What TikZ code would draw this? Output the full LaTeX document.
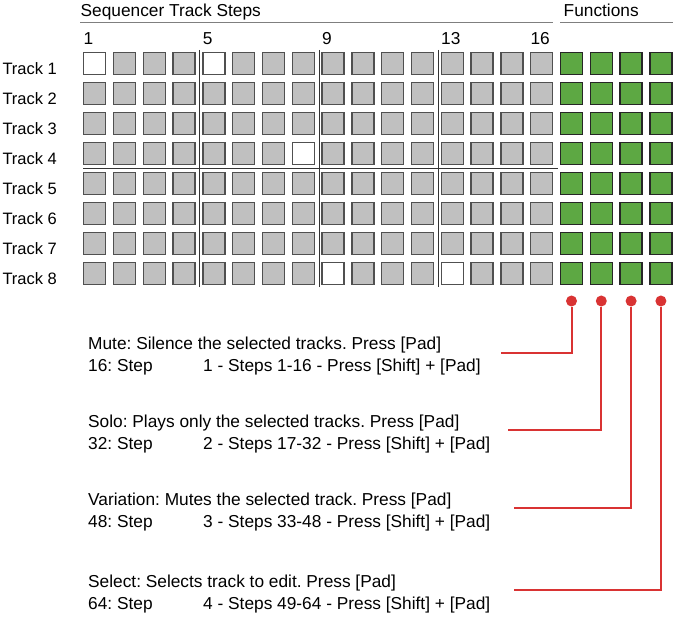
\documentclass[tikz,border=0pt]{standalone}
\usepackage{fontspec}
\setmainfont{Liberation Sans}
\frenchspacing

\definecolor{padgray}{HTML}{C0C0C0}
\definecolor{padedge}{HTML}{505050}
\definecolor{fngreen}{HTML}{5DA843}
\definecolor{ledred}{HTML}{D93333}
\definecolor{rulegray}{HTML}{7F7F7F}

\tikzset{
  pad/.style={draw=padedge, fill=padgray, line width=1.4pt, minimum size=22pt, inner sep=0pt},
  padon/.style={pad, fill=white},
  fnpad/.style={pad, draw=black!85, fill=fngreen},
  led/.style={circle, fill=ledred, inner sep=0pt, minimum size=11pt},
  redline/.style={ledred, line width=2pt},
  sep/.style={black!80, line width=1pt},
  headrule/.style={rulegray, line width=1.5pt},
  txt/.style={anchor=base west, inner sep=0pt, font=\fontsize{17.3}{20}\selectfont},
}

\begin{document}
\begin{tikzpicture}[x=1pt,y=-1pt]
\useasboundingbox (0,0) rectangle (677,617);

\node[txt] (seqhead) at (80.5,16.7) {Sequencer Track Steps};
\node[txt] (fnhead) at (563.5,16.7) {Functions};
\draw[headrule] (80,22.7) -- (553,22.7);
\draw[headrule] (560,22.7) -- (673,22.7);

\foreach \n/\c in {1/1,5/5,9/9,13/13,16/16}
  \node[txt] (num\n) at (53.6+29.8*\c,45) {\n};

\foreach \r in {1,...,8}{
  \node[txt, font=\fontsize{16.5}{20}\selectfont] (track\r) at (2.3,44.3+30*\r) {Track \r};
  \foreach \c in {1,...,16}
    \node[pad] (s-\r-\c) at (64.9+29.8*\c,33.3+30*\r) {};
  \foreach \c in {17,...,20}
    \node[fnpad] (f-\r-\c) at (64.9+29.8*\c,33.3+30*\r) {};
}
% lit steps
\foreach \r/\c in {1/1,1/5,4/8,8/9,8/13}
  \node[padon] at (s-\r-\c) {};

\draw[sep] (199,50) -- (199,286.7);
\draw[sep] (319,50) -- (319,286.7);
\draw[sep] (438.5,50) -- (438.5,286.7);
\draw[sep] (83,168.3) -- (558,168.3);

\foreach \k in {1,...,4}
  \node[led] (led\k) at (541.7+29.8*\k,301) {};

\foreach \k/\name/\title/\num/\steps/\y/\xe/\ly in {
  1/mute/{Mute: Silence the selected tracks. Press [Pad]}/16/{1 - Steps 1-16 - Press [Shift] + [Pad]}/349.3/501/353.3,
  2/solo/{Solo: Plays only the selected tracks. Press [Pad]}/32/{2 - Steps 17-32 - Press [Shift] + [Pad]}/427/508/430,
  3/variation/{Variation: Mutes the selected track. Press [Pad]}/48/{3 - Steps 33-48 - Press [Shift] + [Pad]}/505/514/507.7,
  4/select/{Select: Selects track to edit. Press [Pad]}/64/{4 - Steps 49-64 - Press [Shift] + [Pad]}/587.5/514/590}{
  \node[txt] (\name) at (88,\y) {\title};
  \node[txt] (\name-step) at (88,\y+22.4) {\num: Step};
  \node[txt] (\name-range) at (203,\y+22.4) {\steps};
  \coordinate (\name-end) at (\xe,\ly);
  \draw[redline] (led\k) |- (\name-end);
}
\end{tikzpicture}
\end{document}
